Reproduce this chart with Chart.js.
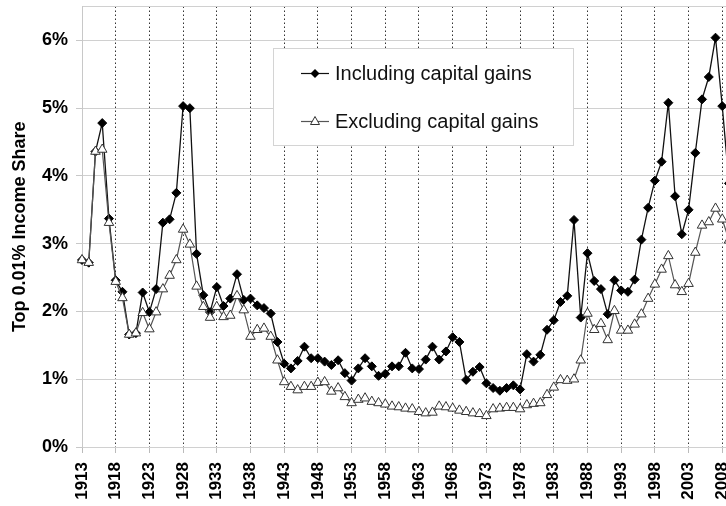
<!DOCTYPE html>
<html>
<head>
<meta charset="utf-8">
<script src="https://cdn.jsdelivr.net/npm/chart.js@4/dist/chart.umd.min.js"></script>
<style>
  html, body { margin: 0; padding: 0; background: #fff; overflow: hidden; }
</style>
</head>
<body>
<canvas id="topShare" width="760" height="506"></canvas>
<script>
// years 1913 - 2009 (the last one runs off the right edge, like the original)
var years = [];
for (var y = 1913; y <= 2009; y++) years.push(y);

// Top 0.01% income share (%)
var inclGains = [
  2.76, 2.72, 4.36, 4.78, 3.37, 2.46, 2.29, 1.66, 1.68, 2.28,
  1.99, 2.33, 3.31, 3.36, 3.75, 5.03, 5.00, 2.85, 2.24, 1.99,
  2.36, 2.08, 2.19, 2.55, 2.17, 2.19, 2.09, 2.05, 1.97, 1.55,
  1.23, 1.16, 1.27, 1.48, 1.31, 1.31, 1.26, 1.21, 1.28, 1.09,
  0.98, 1.16, 1.31, 1.19, 1.05, 1.08, 1.19, 1.19, 1.39, 1.16,
  1.15, 1.29, 1.48, 1.29, 1.41, 1.62, 1.55, 0.99, 1.11, 1.18,
  0.94, 0.87, 0.83, 0.87, 0.91, 0.85, 1.37, 1.26, 1.36, 1.73,
  1.87, 2.14, 2.23, 3.35, 1.91, 2.86, 2.45, 2.33, 1.96, 2.46,
  2.31, 2.29, 2.47, 3.06, 3.53, 3.93, 4.21, 5.08, 3.70, 3.14,
  3.50, 4.34, 5.13, 5.46, 6.04, 5.03, 3.89
];
var exclGains = [
  2.76, 2.72, 4.36, 4.39, 3.31, 2.44, 2.20, 1.66, 1.68, 1.98,
  1.74, 1.99, 2.33, 2.53, 2.76, 3.21, 2.99, 2.37, 2.07, 1.91,
  2.07, 1.92, 1.94, 2.23, 2.02, 1.63, 1.73, 1.75, 1.63, 1.28,
  0.96, 0.89, 0.84, 0.89, 0.89, 0.95, 0.96, 0.82, 0.87, 0.74,
  0.65, 0.70, 0.72, 0.67, 0.65, 0.63, 0.60, 0.59, 0.57, 0.56,
  0.52, 0.50, 0.51, 0.60, 0.59, 0.57, 0.54, 0.52, 0.50, 0.49,
  0.46, 0.56, 0.57, 0.58, 0.58, 0.56, 0.62, 0.64, 0.65, 0.77,
  0.88, 0.99, 0.98, 1.00, 1.28, 1.97, 1.73, 1.82, 1.58, 2.01,
  1.72, 1.72, 1.81, 1.96, 2.19, 2.40, 2.62, 2.82, 2.39, 2.29,
  2.41, 2.87, 3.27, 3.32, 3.52, 3.36, 3.05
];
var yTicks = [0, 1, 2, 3, 4, 5, 6];
var yTop = 6.5;
var seriesNames = ["Including capital gains", "Excluding capital gains"];

var FONT = "'Liberation Sans', Arial, Helvetica, sans-serif";

// legend box drawn inside the plot
var boxLegend = {
  id: "boxLegend",
  afterDatasetsDraw: function (chart) {
    var ctx = chart.ctx;
    ctx.save();
    ctx.fillStyle = "#fff";
    ctx.strokeStyle = "#d4d4d4";
    ctx.lineWidth = 1;
    ctx.fillRect(273, 48, 300, 97);
    ctx.strokeRect(273.5, 48.5, 300, 97);

    var rows = [73, 121];
    ctx.font = "20px " + FONT;
    ctx.textBaseline = "middle";
    ctx.textAlign = "left";
    for (var i = 0; i < 2; i++) {
      var ry = rows[i] + 0.5;
      ctx.beginPath();
      ctx.moveTo(301, ry);
      ctx.lineTo(329, ry);
      ctx.strokeStyle = i == 0 ? "#111" : "#555";
      ctx.lineWidth = 1.2;
      ctx.stroke();
      ctx.beginPath();
      if (i == 0) {
        ctx.moveTo(315, ry - 4.5);
        ctx.lineTo(319.5, ry);
        ctx.lineTo(315, ry + 4.5);
        ctx.lineTo(310.5, ry);
        ctx.closePath();
        ctx.fillStyle = "#000";
        ctx.fill();
      } else {
        ctx.moveTo(315, ry - 5);
        ctx.lineTo(319.5, ry + 3);
        ctx.lineTo(310.5, ry + 3);
        ctx.closePath();
        ctx.fillStyle = "#fff";
        ctx.fill();
        ctx.strokeStyle = "#333";
        ctx.lineWidth = 1;
        ctx.stroke();
      }
      ctx.fillStyle = "#111";
      ctx.fillText(seriesNames[i], 335, rows[i] + 1);
    }
    ctx.restore();
  }
};

new Chart(document.getElementById("topShare"), {
  type: "line",
  data: {
    labels: years.map(String),
    datasets: [
      {
        label: seriesNames[0],
        data: inclGains,
        order: 2,
        borderColor: "#111",
        borderWidth: 1.3,
        pointStyle: "rectRot",
        pointRadius: 4.5,
        pointBackgroundColor: "#000",
        pointBorderColor: "#000",
        pointBorderWidth: 1,
        tension: 0
      },
      {
        label: seriesNames[1],
        data: exclGains,
        order: 1,
        borderColor: "#555",
        borderWidth: 1.2,
        pointStyle: "triangle",
        pointRadius: 5.5,
        pointBackgroundColor: "#fff",
        pointBorderColor: "#333",
        pointBorderWidth: 1,
        tension: 0
      }
    ]
  },
  options: {
    responsive: false,
    animation: false,
    layout: { padding: { left: 0, top: 5, right: 31, bottom: 0 } },
    plugins: {
      legend: { display: false },
      tooltip: { enabled: false }
    },
    scales: {
      x: {
        type: "category",
        offset: false,
        border: { display: false, dash: [1.5, 2.5] },
        grid: {
          offset: false,
          lineWidth: 1,
          color: function (c) {
            return c.index > 0 && c.index % 5 == 0 ? "#333" : "rgba(0,0,0,0)";
          },
          tickColor: function (c) {
            return c.index % 5 == 0 ? "#bbb" : "rgba(0,0,0,0)";
          },
          tickLength: 6
        },
        ticks: {
          autoSkip: false,
          minRotation: 90,
          maxRotation: 90,
          padding: 9,
          color: "#000",
          font: { family: FONT, size: 17, weight: "bold" },
          callback: function (v, i) {
            return i % 5 == 0 ? years[i] : "";
          }
        },
        afterFit: function (s) {
          s.height = 59;
          s.paddingLeft = 0;
          s.paddingRight = 0;
        }
      },
      y: {
        min: 0,
        max: yTop,
        border: { display: true, color: "#c8c8c8", width: 1 },
        grid: {
          color: "#d0d0d0",
          lineWidth: 1,
          tickLength: 6,
          tickColor: function (c) {
            return c.tick && c.tick.value == yTop ? "rgba(0,0,0,0)" : "#c8c8c8";
          }
        },
        afterBuildTicks: function (s) {
          s.ticks = yTicks.concat([yTop]).map(function (v) { return { value: v }; });
        },
        ticks: {
          padding: 8,
          color: "#000",
          font: { family: FONT, size: 18, weight: "bold" },
          callback: function (v) {
            return yTicks.indexOf(v) >= 0 ? v + "%" : "";
          }
        },
        title: {
          display: true,
          text: "Top 0.01% Income Share",
          color: "#000",
          padding: { top: 9, bottom: 0 },
          font: { family: FONT, size: 18, weight: "bold" }
        },
        afterFit: function (s) {
          s.width = 82;
          s.paddingTop = 0;
          s.paddingBottom = 0;
        }
      }
    }
  },
  plugins: [boxLegend]
});
</script>
</body>
</html>
